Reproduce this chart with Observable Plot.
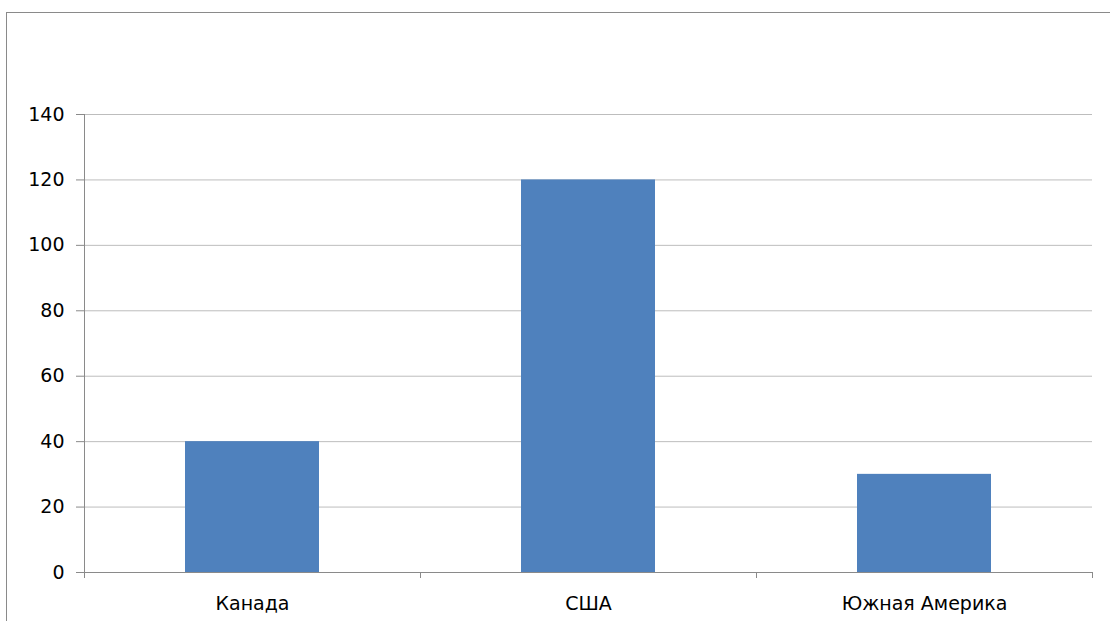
<!DOCTYPE html>
<html>
<head>
<meta charset="utf-8">
<script src="https://cdn.jsdelivr.net/npm/d3@7"></script>
<script src="https://cdn.jsdelivr.net/npm/@observablehq/plot@0.6"></script>
<style>
  html, body { margin: 0; padding: 0; background: #fff; }
  #wrap { position: relative; width: 1110px; height: 621px; overflow: hidden; }
  #frame { position: absolute; left: 6px; top: 12px; width: 1200px; height: 700px;
           border-left: 1px solid #8a8a8a; border-top: 1px solid #8a8a8a; }
  #chart { position: absolute; left: 0; top: 0; }
</style>
</head>
<body>
<div id="wrap"><div id="frame"></div><div id="chart"></div></div>
<script>
const categories = ["Канада", "США", "Южная Америка"];
const values = [40, 120, 30];
const yTicks = [0, 20, 40, 60, 80, 100, 120, 140];

const data = categories.map((c, i) => ({category: c, value: values[i]}));

const plot = Plot.plot({
  width: 1110,
  height: 621,
  marginLeft: 84,
  marginRight: 18,
  marginTop: 114,
  marginBottom: 49,
  style: {fontFamily: "DejaVu Sans", fontSize: "19px", background: "transparent", color: "#000"},
  x: {domain: categories, paddingInner: 0.6, paddingOuter: 0.3, align: 0.5},
  y: {domain: [0, 140]},
  marks: [
    Plot.ruleY(yTicks, {stroke: "#bdbdbd", strokeWidth: 1, strokeOpacity: 1}),
    Plot.barY(data, {x: "category", y: "value", fill: "#4F81BD"}),
    Plot.axisY({ticks: yTicks, tickSize: 8, tickPadding: 12, fontSize: 19, stroke: "#8a8a8a", strokeOpacity: 1, label: null}),
    Plot.ruleX(categories, {x: d => d, dx: -168, y1: 0, y2: 0, insetBottom: -6, stroke: "#8a8a8a"}),
    Plot.ruleX([categories[2]], {x: d => d, dx: 168, y1: 0, y2: 0, insetBottom: -6, stroke: "#8a8a8a"}),
    Plot.ruleX(categories.slice(0,1), {x: d => d, dx: -168, y1: 0, y2: 140, stroke: "#8a8a8a"}),
    Plot.ruleY([0], {stroke: "#8a8a8a"}),
    Plot.axisX({tickSize: 0, tickPadding: 24, fontSize: 19, label: null})
  ]
});
document.getElementById("chart").appendChild(plot);
</script>
</body>
</html>
